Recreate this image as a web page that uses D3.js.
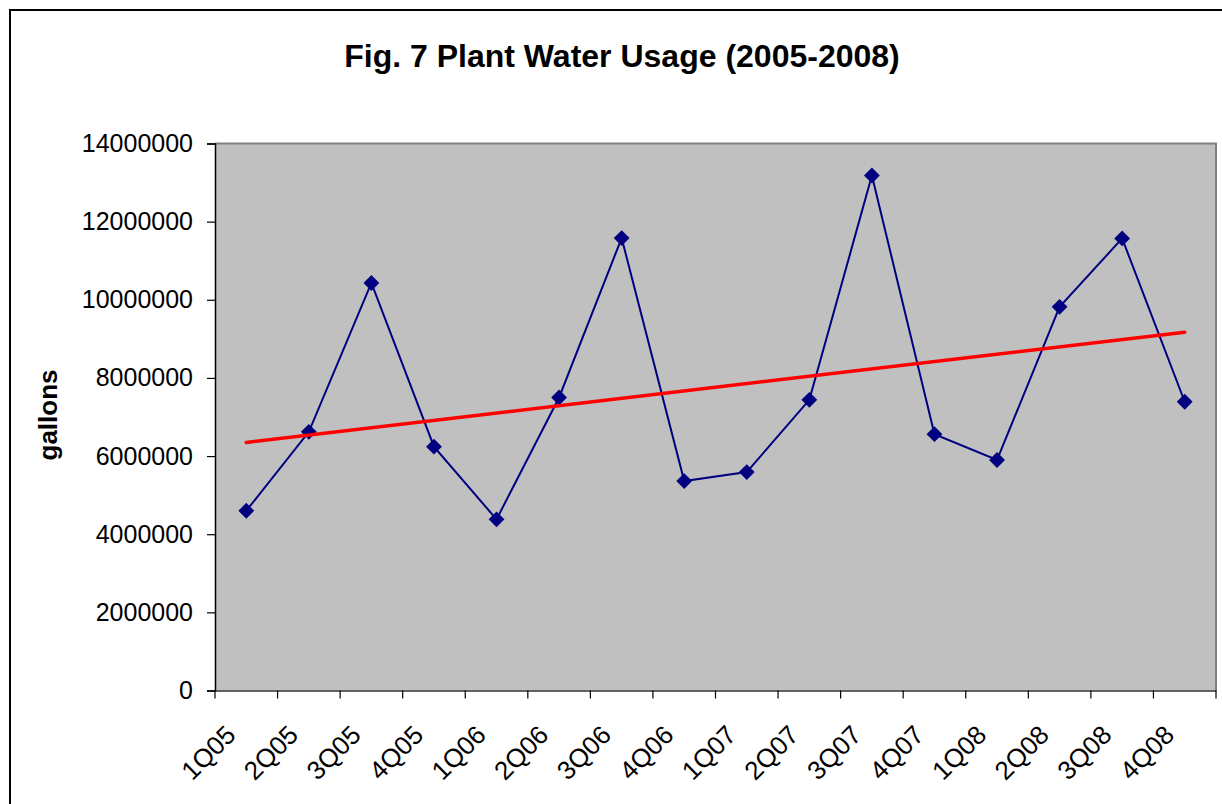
<!DOCTYPE html>
<html>
<head>
<meta charset="utf-8">
<script src="https://cdn.jsdelivr.net/npm/d3@7"></script>
<style>
  html, body { margin: 0; padding: 0; background: #fff; }
  svg { display: block; font-family: Arial, "Liberation Sans", sans-serif; }
</style>
</head>
<body>
<svg id="chart" width="1222" height="804"></svg>
<script>
const quarters = ["1Q05","2Q05","3Q05","4Q05","1Q06","2Q06","3Q06","4Q06","1Q07","2Q07","3Q07","4Q07","1Q08","2Q08","3Q08","4Q08"];
const gallons = [4600000, 6620000, 10430000, 6240000, 4380000, 7500000, 11580000, 5360000, 5590000, 7440000, 13180000, 6560000, 5900000, 9820000, 11570000, 7390000];
const yTicks = [0, 2000000, 4000000, 6000000, 8000000, 10000000, 12000000, 14000000];
const titleText = "Fig. 7 Plant Water Usage (2005-2008)";
const yLabel = "gallons";

const svg = d3.select("#chart");
const plot = { left: 215, top: 143.5, right: 1216, bottom: 690.5 };

// outer frame
svg.append("rect").attr("x", 10).attr("y", 10).attr("width", 1240).attr("height", 830)
  .attr("fill", "#fff").attr("stroke", "#000").attr("stroke-width", 2);

const x = d3.scaleBand().domain(quarters).range([plot.left, plot.right]).paddingInner(0).paddingOuter(0);
const y = d3.scaleLinear().domain([0, 14000000]).range([plot.bottom, plot.top]);

// plot area
svg.append("rect").attr("x", plot.left).attr("y", plot.top)
  .attr("width", plot.right - plot.left).attr("height", plot.bottom - plot.top)
  .attr("fill", "#C0C0C0");
svg.append("path")
  .attr("d", `M${plot.left},${plot.top}H${plot.right}V${plot.bottom}`)
  .attr("fill", "none").attr("stroke", "#808080").attr("stroke-width", 2);

// y axis
const yAxis = d3.axisLeft(y).tickValues(yTicks).tickFormat(d3.format("d")).tickSize(8).tickPadding(14);
const gy = svg.append("g").attr("transform", `translate(${plot.left},0)`).call(yAxis);
gy.select(".domain").attr("stroke", "#000").attr("stroke-width", 1.5);
gy.selectAll(".tick line").attr("stroke", "#000").attr("stroke-width", 1.2);
gy.selectAll(".tick text").attr("font-size", 25).attr("fill", "#000")
  .attr("font-family", "Arial, 'Liberation Sans', sans-serif");

// x axis
const xAxis = d3.axisBottom(x).tickSize(0).tickFormat("");
const gx = svg.append("g").attr("transform", `translate(0,${plot.bottom})`).call(xAxis);
gx.select(".domain").attr("stroke", "#333").attr("stroke-width", 1.5);
gx.selectAll(".tick").remove();
const boundaries = quarters.map(q => x(q)).concat([x(quarters[quarters.length - 1]) + x.bandwidth()]);
gx.selectAll("line.xt").data(boundaries).enter().append("line")
  .attr("class", "xt")
  .attr("x1", d => d).attr("x2", d => d).attr("y1", 0).attr("y2", 8)
  .attr("stroke", "#000").attr("stroke-width", 1.2);
svg.append("g").selectAll("text").data(quarters).enter().append("text")
  .attr("transform", d => `translate(${x(d) + x.bandwidth() / 2 - 9},${plot.bottom + 46}) rotate(-45)`)
  .attr("text-anchor", "end")
  .attr("font-size", 26)
  .attr("fill", "#000")
  .text(d => d);

// title
svg.append("text").attr("x", 622).attr("y", 67).attr("text-anchor", "middle")
  .attr("font-size", 32).attr("font-weight", "bold").attr("fill", "#000").text(titleText);

// y label
svg.append("text").attr("transform", `translate(57,415) rotate(-90)`)
  .attr("text-anchor", "middle").attr("font-size", 26).attr("font-weight", "bold")
  .attr("fill", "#000").text(yLabel);

// series line
const cx = d => x(d) + x.bandwidth() / 2;
const line = d3.line().x((d, i) => cx(quarters[i])).y(d => y(d));
svg.append("path").datum(gallons).attr("d", line)
  .attr("fill", "none").attr("stroke", "#000080").attr("stroke-width", 2);

// markers
svg.append("g").selectAll("path").data(gallons).enter().append("path")
  .attr("d", d3.symbol().type(d3.symbolDiamond2).size(160))
  .attr("transform", (d, i) => `translate(${cx(quarters[i])},${y(d)})`)
  .attr("fill", "#000080");

// linear trend line (least squares on the series)
const n = gallons.length;
const idx = d3.range(n);
const mx = d3.mean(idx), my = d3.mean(gallons);
const slope = d3.sum(idx, i => (i - mx) * (gallons[i] - my)) / d3.sum(idx, i => (i - mx) ** 2);
const intercept = my - slope * mx;
svg.append("line")
  .attr("x1", cx(quarters[0])).attr("y1", y(intercept))
  .attr("x2", cx(quarters[n - 1])).attr("y2", y(intercept + slope * (n - 1)))
  .attr("stroke", "#FF0000").attr("stroke-width", 3.5).attr("stroke-linecap", "round");
</script>
</body>
</html>
